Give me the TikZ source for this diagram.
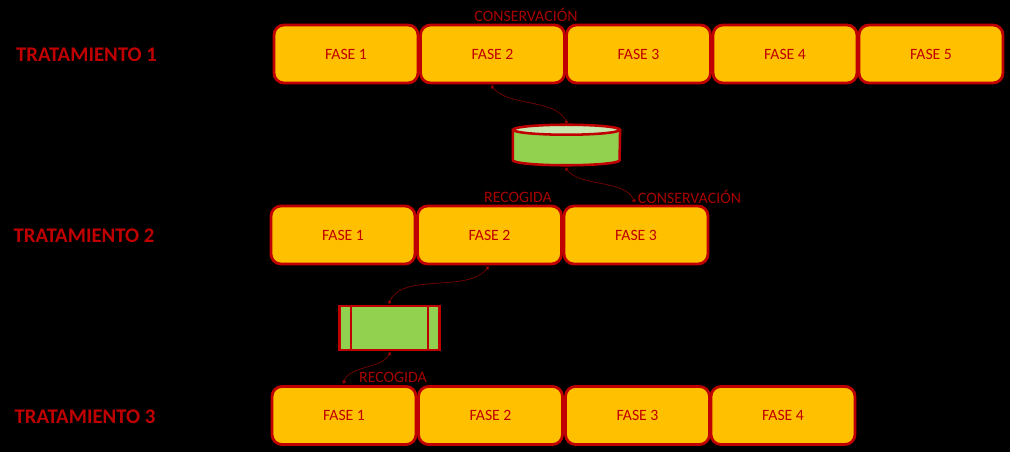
\documentclass[tikz,border=0pt]{standalone}
\usepackage{fontspec}
\setmainfont{Carlito}
\usetikzlibrary{arrows.meta}
\definecolor{rojo}{HTML}{C00000}
\definecolor{oro}{HTML}{FFC000}
\definecolor{verde}{HTML}{92D050}
\definecolor{claro}{HTML}{C8E6AE}
\definecolor{conector}{HTML}{6A0000}
\definecolor{etiqueta}{HTML}{A80000}
\tikzset{
  fase/.style={draw=rojo,fill=oro,line width=2.1pt,rounded corners=7.5pt,minimum width=108pt,minimum height=43.5pt,inner sep=0pt,text=rojo,font=\fontsize{11.8pt}{13pt}\selectfont},
  titulo/.style={text=rojo,font=\fontsize{15.6pt}{18pt}\selectfont\bfseries,inner sep=0pt},
  etq/.style={text=etiqueta,font=\fontsize{11.9pt}{13pt}\selectfont,inner sep=0pt},
  proceso/.style={draw=rojo,fill=verde,line width=1.9pt,minimum width=75pt,minimum height=33pt,inner sep=0pt},
  bote/.style={minimum width=80pt,minimum height=30pt,inner sep=0pt},
  borde/.style={draw=rojo,line width=1.9pt},
  enlace/.style={draw=conector,line width=0.6pt,shorten <=-1.5pt,shorten >=-1.5pt,looseness=0.8,{Circle[length=3pt,fill=rojo]}-{Circle[length=3pt,fill=rojo]}}
}
\begin{document}
\begin{tikzpicture}[x=0.75pt,y=-0.75pt]
\fill[black] (0,0) rectangle (1010,452);
\useasboundingbox (0,0) rectangle (1010,452);
\node[titulo] (t1) at (86.5,55) {TRATAMIENTO 1};
\node[titulo] (t2) at (84,236) {TRATAMIENTO 2};
\node[titulo] (t3) at (85,416.5) {TRATAMIENTO 3};
\node[fase] (a1) at (346,54) {FASE 1};
\node[fase] (a2) at (492.5,54) {FASE 2};
\node[fase] (a3) at (638.5,54) {FASE 3};
\node[fase] (a4) at (785,54) {FASE 4};
\node[fase] (a5) at (931,54) {FASE 5};
\node[fase] (b1) at (343,235) {FASE 1};
\node[fase] (b2) at (489.5,235) {FASE 2};
\node[fase] (b3) at (636,235) {FASE 3};
\node[fase] (c1) at (344,415.5) {FASE 1};
\node[fase] (c2) at (490.5,415.5) {FASE 2};
\node[fase] (c3) at (637.5,415.5) {FASE 3};
\node[fase] (c4) at (783,415.5) {FASE 4};
\node[etq] (l1) at (526,15) {CONSERVACIÓN};
\node[etq] (l2) at (518,197) {RECOGIDA};
\node[etq] (l3) at (689.5,197) {CONSERVACIÓN};
\node[etq] (l4) at (393,377) {RECOGIDA};
\node[bote] (can) at (566.5,145) {};
\fill[verde] ([yshift=-3.75pt]can.north west) -- ([yshift=3.75pt]can.south west) arc[start angle=180,end angle=360,x radius=40pt,y radius=3.75pt] -- ([yshift=-3.75pt]can.north east) -- cycle;
\draw[borde] ([yshift=-3.75pt]can.north west) -- ([yshift=3.75pt]can.south west) arc[start angle=180,end angle=360,x radius=40pt,y radius=3.75pt] -- ([yshift=-3.75pt]can.north east);
\draw[borde,fill=claro] ([yshift=-3.75pt]can.north) ellipse[x radius=40pt,y radius=3.75pt];
\node[proceso] (proc) at (389.5,328) {};
\draw[borde] ([xshift=9.5pt]proc.north west) -- ([xshift=9.5pt]proc.south west);
\draw[borde] ([xshift=-9.5pt]proc.north east) -- ([xshift=-9.5pt]proc.south east);
\coordinate (p1) at ([yshift=-2pt]a2.south);
\coordinate (p2) at ([yshift=2pt]can.north);
\coordinate (p3) at ([yshift=-3pt]can.south);
\coordinate (p4) at ([xshift=-1.5pt,yshift=3pt]b3.north);
\coordinate (p5) at ([xshift=-1.5pt,yshift=-2pt]b2.south);
\coordinate (p6) at ([yshift=2pt]proc.north);
\coordinate (p7) at ([yshift=-2pt]proc.south);
\coordinate (p8) at ([yshift=2.5pt]c1.north);
\draw[enlace] (p1) to[out=-50,in=115] (p2);
\draw[enlace] (p3) to[out=-50,in=115] (p4);
\draw[enlace] (p5) to[out=-130,in=65] (p6);
\draw[enlace] (p7) to[out=-120,in=70] (p8);
\end{tikzpicture}
\end{document}
